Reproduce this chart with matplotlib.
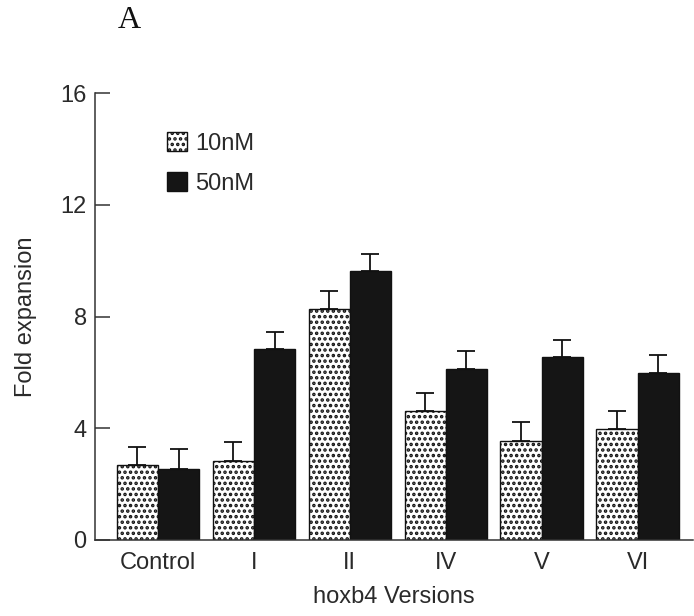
import numpy as np
import matplotlib
matplotlib.use("Agg")
import matplotlib.pyplot as plt

# valores
grupos = ["Control", "I", "II", "IV", "V", "VI"]
media_10nM = [2.69, 2.83, 8.28, 4.62, 3.55, 3.98]
erro_10nM = [0.64, 0.67, 0.64, 0.65, 0.68, 0.64]
media_50nM = [2.54, 6.85, 9.64, 6.13, 6.56, 5.99]
erro_50nM = [0.72, 0.60, 0.61, 0.64, 0.61, 0.64]
yticks = [0, 4, 8, 12, 16]

plt.rcParams["font.family"] = ["Liberation Sans", "DejaVu Sans"]
plt.rcParams["hatch.linewidth"] = 1.7
plt.rcParams["hatch.color"] = "#111111"

fig = plt.figure(figsize=(6.94, 6.16), dpi=100)
ax = fig.add_axes([0.137, 0.1234, 0.862, 0.7256])

x = np.arange(len(grupos))
w = 0.43
txt = "#2a2a2a"

b1 = ax.bar(x - w / 2, media_10nM, w, color="white", edgecolor="#111111",
            hatch="...", linewidth=1.0, label="10nM")
b2 = ax.bar(x + w / 2, media_50nM, w, color="#151515", edgecolor="#111111",
            linewidth=1.0, label="50nM")

zeros = np.zeros(len(grupos))
ax.errorbar(x - w / 2, media_10nM, yerr=[zeros, erro_10nM], fmt="none",
            ecolor="#111111", elinewidth=1.3, capsize=6.5, capthick=1.3)
ax.errorbar(x + w / 2, media_50nM, yerr=[zeros, erro_50nM], fmt="none",
            ecolor="#111111", elinewidth=1.3, capsize=6.5, capthick=1.3)

ax.set_xlim(-0.656, 5.58)
ax.set_ylim(0, 16)
ax.set_yticks(yticks)
ax.set_xticks(x)
ax.set_xticklabels(grupos)

for s in ["top", "right"]:
    ax.spines[s].set_visible(False)
for s in ["left", "bottom"]:
    ax.spines[s].set_linewidth(1.1)
    ax.spines[s].set_color("#333333")

ax.tick_params(axis="y", direction="in", length=11, width=1.1, color="#333333",
               pad=6, labelsize=17, labelcolor=txt)
ax.tick_params(axis="x", length=0, pad=9, labelsize=17, labelcolor=txt)

ax.set_ylabel("Fold expansion", fontsize=17, color=txt, labelpad=17)
ax.set_xlabel("hoxb4 Versions", fontsize=17, color=txt, labelpad=8)

ax.legend(loc="upper left", bbox_to_anchor=(0.085, 0.96), frameon=False,
          fontsize=17, handlelength=0.85, handleheight=0.85, handletextpad=0.35,
          labelspacing=0.75, labelcolor=txt)

fig.text(0.186, 0.966, "A", fontsize=23, family="Liberation Serif",
         ha="center", va="center", color="#111111")

plt.savefig("out.png", dpi=100)
plt.close()
